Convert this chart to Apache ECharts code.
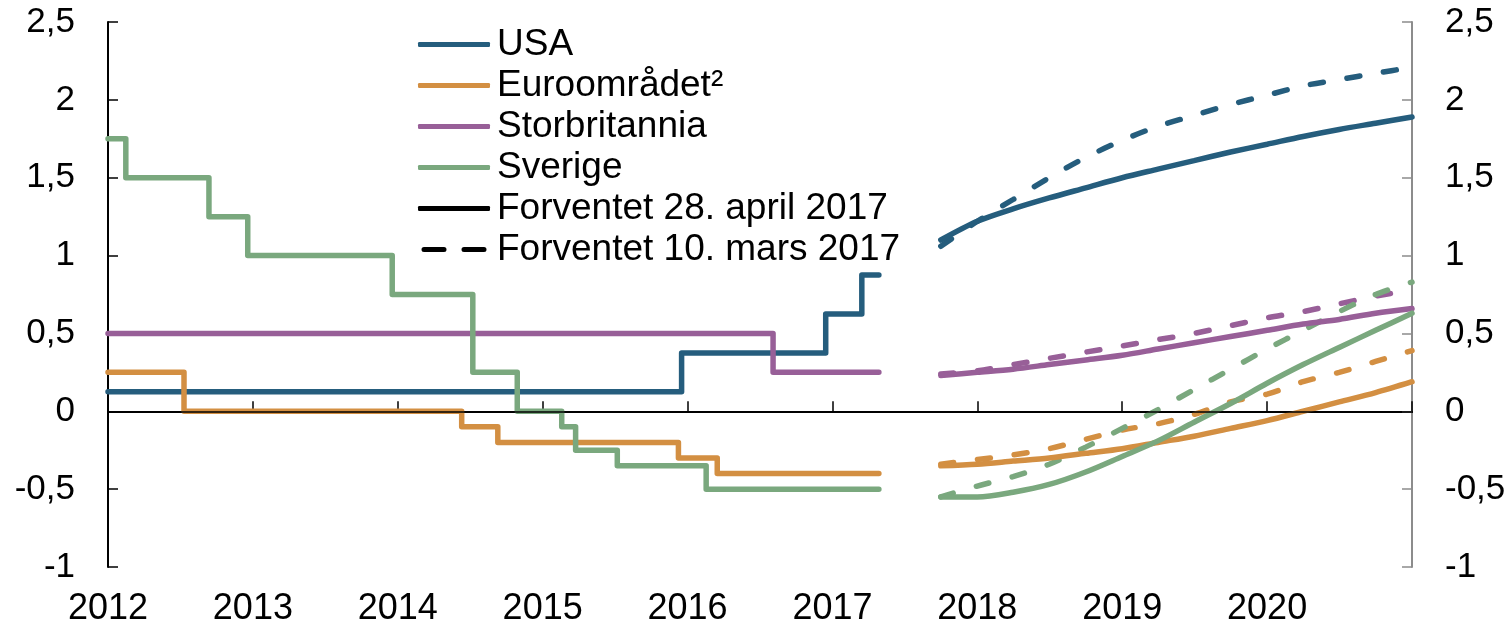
<!DOCTYPE html>
<html>
<head>
<meta charset="utf-8">
<script src="https://cdn.jsdelivr.net/npm/echarts@6/dist/echarts.min.js"></script>
<style>
html, body { margin: 0; padding: 0; background: #fff; }
#chart { width: 1510px; height: 628px; }
</style>
</head>
<body>
<div id="chart"></div>
<script>
// policy rates, history (date of change, new rate) - last entry is 28 April 2017
var usaDates = ['2012-01-01', '2015-12-17', '2016-12-15', '2017-03-16', '2017-04-28'];
var usaRates = [0.125, 0.375, 0.625, 0.875, 0.875];
var euroDates = ['2012-01-01', '2012-07-11', '2014-06-11', '2014-09-10', '2015-12-09', '2016-03-16', '2017-04-28'];
var euroRates = [0.25, 0, -0.1, -0.2, -0.3, -0.4, -0.4];
var ukDates = ['2012-01-01', '2016-08-04', '2017-04-28'];
var ukRates = [0.5, 0.25, 0.25];
var sweDates = ['2012-01-01', '2012-02-15', '2012-09-12', '2012-12-19', '2013-12-18', '2014-07-09',
  '2014-10-29', '2015-02-18', '2015-03-25', '2015-07-08', '2016-02-17', '2017-04-28'];
var sweRates = [1.75, 1.5, 1.25, 1.0, 0.75, 0.25, 0, -0.1, -0.25, -0.35, -0.5, -0.5];

// expected rates, quarter ends
var quarters = ['2017-09-30', '2017-12-31', '2018-03-31', '2018-06-30', '2018-09-30', '2018-12-31', '2019-03-31',
  '2019-06-30', '2019-09-30', '2019-12-31', '2020-03-31', '2020-06-30', '2020-09-30', '2020-12-31'];
var usaApr = [1.10, 1.22, 1.30, 1.37, 1.435, 1.50, 1.555, 1.61, 1.665, 1.715, 1.765, 1.81, 1.85, 1.89];
var usaMar = [1.06, 1.22, 1.36, 1.50, 1.63, 1.74, 1.83, 1.90, 1.97, 2.03, 2.09, 2.13, 2.17, 2.21];
var euroApr = [-0.35, -0.34, -0.32, -0.30, -0.27, -0.24, -0.20, -0.16, -0.11, -0.06, 0.0, 0.06, 0.12, 0.19];
var euroMar = [-0.34, -0.31, -0.28, -0.24, -0.18, -0.12, -0.08, -0.02, 0.06, 0.11, 0.19, 0.25, 0.32, 0.39];
var ukApr = [0.23, 0.25, 0.27, 0.30, 0.33, 0.36, 0.40, 0.44, 0.48, 0.52, 0.56, 0.59, 0.63, 0.66];
var ukMar = [0.24, 0.26, 0.30, 0.34, 0.38, 0.42, 0.46, 0.50, 0.55, 0.60, 0.64, 0.69, 0.74, 0.78];
var sweApr = [-0.55, -0.55, -0.52, -0.47, -0.39, -0.29, -0.19, -0.07, 0.05, 0.18, 0.30, 0.41, 0.52, 0.63];
var sweMar = [-0.55, -0.48, -0.42, -0.34, -0.23, -0.11, 0.01, 0.14, 0.27, 0.40, 0.52, 0.64, 0.75, 0.83];

var yTicks = [-1, -0.5, 0, 0.5, 1, 1.5, 2, 2.5];
var yearLabels = ['2012', '2013', '2014', '2015', '2016', '2017', '2018', '2019', '2020'];

var names = ['USA', 'Euroområdet²', 'Storbritannia', 'Sverige'];
var colors = ['#255d7d', '#d38f42', '#985f98', '#7aa87e'];
var aprName = 'Forventet 28. april 2017';
var marName = 'Forventet 10. mars 2017';
var FONT = '"Liberation Sans", Arial, sans-serif';
var LW = 5.5;
var DASH = [13, 24];

// date string -> fractional year
function yearFrac(s) {
  var d = new Date(s + 'T00:00:00Z');
  var y = d.getUTCFullYear();
  var start = Date.UTC(y, 0, 1), end = Date.UTC(y + 1, 0, 1);
  return y + (d.getTime() - start) / (end - start);
}
function pairs(dates, vals, endOfDay) {
  return dates.map(function (d, i) {
    var x = yearFrac(d);
    if (endOfDay) x += 1 / 365;
    return [x, vals[i]];
  });
}

var hist = [[usaDates, usaRates], [euroDates, euroRates], [ukDates, ukRates], [sweDates, sweRates]];
var april = [usaApr, euroApr, ukApr, sweApr];
var march = [usaMar, euroMar, ukMar, sweMar];

var series = [];
hist.forEach(function (h, i) {
  series.push({
    name: names[i], type: 'line', step: 'end', symbol: 'none',
    data: pairs(h[0], h[1]),
    lineStyle: { color: colors[i], width: LW, cap: 'round', join: 'round' },
    itemStyle: { color: colors[i] }
  });
});
march.forEach(function (v, i) {
  series.push({
    name: names[i], type: 'line', symbol: 'none', smooth: 0.3,
    data: pairs(quarters, v, true),
    lineStyle: { color: colors[i], width: LW, type: DASH, cap: 'round' },
    itemStyle: { color: colors[i] }
  });
});
april.forEach(function (v, i) {
  series.push({
    name: names[i], type: 'line', symbol: 'none', smooth: 0.3,
    data: pairs(quarters, v, true),
    lineStyle: { color: colors[i], width: LW, cap: 'round' },
    itemStyle: { color: colors[i] }
  });
});
// legend-only entries
series.push({
  name: aprName, type: 'line', symbol: 'none', data: [],
  lineStyle: { color: '#000', width: LW }, itemStyle: { color: '#000' }
});
series.push({
  name: marName, type: 'line', symbol: 'none', data: [],
  lineStyle: { color: '#000', width: LW, type: DASH }, itemStyle: { color: '#000' },
  markLine: {
    silent: true, symbol: 'none', label: { show: false },
    lineStyle: { color: '#000', width: 1.5, type: 'solid' },
    data: [{ yAxis: 0 }]
  }
});

var solidIcon = 'roundRect';
var dashIcon = 'path://M2,0H22A2,2 0 0 1 22,5H2A2,2 0 0 1 2,0Z M42,0H62A2,2 0 0 1 62,5H42A2,2 0 0 1 42,0Z';
var legendData = names.map(function (n) { return { name: n, icon: solidIcon }; });
legendData.push({ name: aprName, icon: solidIcon });
legendData.push({ name: marName, icon: dashIcon });

var chart = echarts.init(document.getElementById('chart'));
var commaFmt = function (v) { return yTicks.indexOf(v) < 0 ? '' : String(v).replace('.', ','); };

chart.setOption({
  animation: false,
  textStyle: { fontFamily: FONT },
  grid: { left: 108, right: 98, top: 22, bottom: 61 },
  legend: {
    left: 418, top: 24, orient: 'vertical', padding: 0,
    itemWidth: 72, itemHeight: 5, itemGap: 0,
    data: legendData,
    textStyle: { fontFamily: FONT, fontSize: 37, color: '#000', lineHeight: 41, padding: [0, 0, 0, 2] }
  },
  xAxis: [{
    type: 'value', min: 2012, max: 2021, interval: 1,
    axisLine: { lineStyle: { color: '#000', width: 2 } },
    axisTick: { inside: true, length: 10, lineStyle: { color: '#000', width: 1.5 } },
    axisLabel: {
      fontSize: 36, color: '#000', margin: 24, fontFamily: FONT,
      formatter: function (v) { var i = Math.round(v) - 2012; return yearLabels[i] || ''; }
    },
    splitLine: { show: false }
  }, {
    type: 'value', position: 'top', min: 2012, max: 2021,
    axisLine: { show: true, lineStyle: { color: '#000', width: 2 } },
    axisTick: { show: false }, axisLabel: { show: false }, splitLine: { show: false }
  }],
  yAxis: [{
    type: 'value', min: -1, max: 2.5, interval: 0.5, position: 'left',
    axisLine: { show: true, lineStyle: { color: '#000', width: 2 } },
    axisTick: { show: true, inside: true, length: 10, lineStyle: { color: '#000', width: 1.5 } },
    axisLabel: { fontSize: 35, color: '#000', margin: 33, fontFamily: FONT, formatter: commaFmt },
    splitLine: { show: false }
  }, {
    type: 'value', min: -1, max: 2.5, interval: 0.5, position: 'right',
    axisLine: { show: true, lineStyle: { color: '#8c8c8c', width: 2 } },
    axisTick: { show: true, inside: true, length: 10, lineStyle: { color: '#8c8c8c', width: 1.5 } },
    axisLabel: { fontSize: 35, color: '#000', margin: 33, fontFamily: FONT, formatter: commaFmt },
    splitLine: { show: false }
  }],
  series: series
});
</script>
</body>
</html>
